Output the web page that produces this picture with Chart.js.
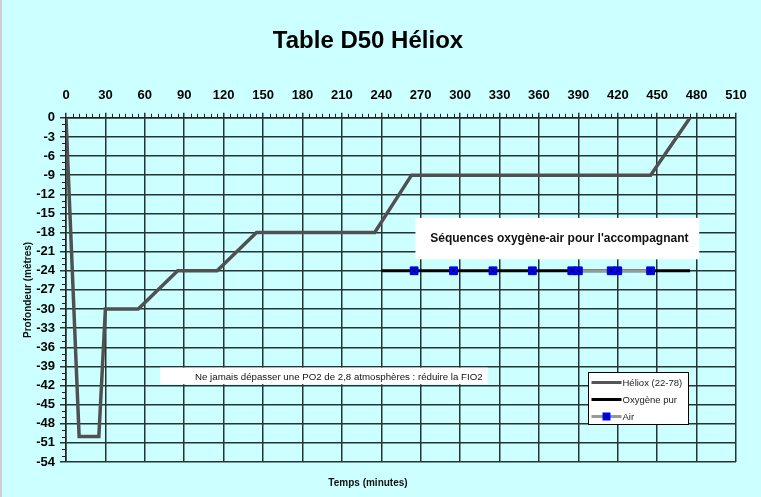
<!DOCTYPE html>
<html>
<head>
<meta charset="utf-8">
<script src="https://cdn.jsdelivr.net/npm/chart.js@4/dist/chart.umd.min.js"></script>
<style>
body { margin: 0; background: #ccffff; }
#wrap { width: 761px; height: 497px; }
</style>
</head>
<body>
<div id="wrap"><canvas id="mycanvas" width="761" height="497"></canvas></div>
<script>
// profil de plongee (minutes / metres)
var heliumTime  = [0, 10, 25, 30, 55, 85, 115, 145, 235, 263, 445, 475];
var heliumDepth = [0, -50, -50, -30, -30, -24, -24, -18, -18, -9, -9, 0];

// sequences pour l'accompagnant, tracees a -24 m
var oxygenTime  = [240, 475];
var oxygenDepth = [-24, -24];
var airTime  = [265, null, 295, null, 325, null, 355, null, 385, 390, 415, null, 420, 445];
var airDepth = [-24, null, -24, null, -24, null, -24, null, -24, -24, -24, null, -24, -24];

var xTicksMin = 0, xTicksMax = 510, xStep = 30;
var yTicksMin = -54, yTicksMax = 0, yStep = 3;

var FONT = "'Liberation Sans', Arial, sans-serif";

function pts(xs, ys) {
  var out = [];
  for (var i = 0; i < xs.length; i++) {
    out.push({x: xs[i] === null ? NaN : xs[i], y: ys[i]});
  }
  return out;
}

var extras = {
  id: 'extras',
  beforeDraw: function(chart) {
    var c = chart.ctx;
    c.save();
    c.fillStyle = '#ccffff';
    c.fillRect(0, 0, chart.width, chart.height);
    c.fillStyle = '#d0d0d0';
    c.fillRect(0, 0, 2, chart.height);
    c.restore();
  },
  beforeDatasetsDraw: function(chart) {
    var c = chart.ctx, xs = chart.scales.x, ys = chart.scales.y;
    c.save();
    // petites graduations
    c.strokeStyle = '#222';
    c.lineWidth = 1;
    c.beginPath();
    for (var v = yTicksMin; v <= yTicksMax; v++) {
      if (v % yStep === 0) continue;
      var py = Math.round(ys.getPixelForValue(v)) + 0.5;
      c.moveTo(xs.left - 4, py); c.lineTo(xs.left, py);
    }
    for (var t = xTicksMin; t <= xTicksMax; t += 5) {
      if (t % xStep === 0) continue;
      var px = Math.round(xs.getPixelForValue(t)) + 0.5;
      c.moveTo(px, ys.top - 4); c.lineTo(px, ys.top);
    }
    c.stroke();

    // encadre "Sequences"
    var bx1 = xs.getPixelForValue(266), bx2 = xs.getPixelForValue(482);
    var by1 = ys.getPixelForValue(-15.7), by2 = ys.getPixelForValue(-22.2);
    c.fillStyle = '#ffffff';
    c.fillRect(bx1, by1, bx2 - bx1, by2 - by1);
    c.fillStyle = '#111';
    c.font = 'bold 12px ' + FONT;
    c.textAlign = 'center';
    c.textBaseline = 'middle';
    c.fillText("Séquences oxygène-air pour l'accompagnant", (bx1 + bx2) / 2 + 2, (by1 + by2) / 2);

    // encadre PO2
    var nx1 = xs.getPixelForValue(71.5), nx2 = xs.getPixelForValue(321);
    var ny1 = ys.getPixelForValue(-39.2), ny2 = ys.getPixelForValue(-41.8);
    c.fillStyle = '#ffffff';
    c.fillRect(nx1, ny1, nx2 - nx1, ny2 - ny1);
    c.fillStyle = '#111';
    c.font = '9.7px ' + FONT;
    c.fillText('Ne jamais dépasser une PO2 de 2,8 atmosphères : réduire la FIO2', (nx1 + nx2) / 2 + 15, (ny1 + ny2) / 2 + 1);

    // legende
    var lx1 = Math.round(xs.getPixelForValue(397.5)) + 0.5, lx2 = Math.round(xs.getPixelForValue(473.7)) + 0.5;
    var ly1 = Math.round(ys.getPixelForValue(-39.9)) + 0.5, ly2 = Math.round(ys.getPixelForValue(-48.1)) + 0.5;
    c.fillStyle = '#ffffff';
    c.fillRect(lx1, ly1, lx2 - lx1, ly2 - ly1);
    c.strokeStyle = '#000';
    c.lineWidth = 1;
    c.strokeRect(lx1, ly1, lx2 - lx1, ly2 - ly1);
    var rows = [
      {label: 'Héliox (22-78)', color: '#555555', w: 3, marker: false},
      {label: 'Oxygène pur', color: '#000000', w: 3, marker: false},
      {label: 'Air', color: '#999999', w: 3, marker: true}
    ];
    c.textAlign = 'left';
    c.font = '9.5px ' + FONT;
    for (var i = 0; i < rows.length; i++) {
      var ry = ly1 + 10 + i * 17;
      c.strokeStyle = rows[i].color;
      c.lineWidth = rows[i].w;
      c.beginPath();
      c.moveTo(lx1 + 3, ry); c.lineTo(lx1 + 33, ry);
      c.stroke();
      if (rows[i].marker) {
        c.fillStyle = '#0000ff';
        c.fillRect(lx1 + 14, ry - 4, 8, 8);
        c.strokeStyle = '#000';
        c.lineWidth = 0.8;
        c.beginPath();
        c.moveTo(lx1 + 16, ry - 2); c.lineTo(lx1 + 20, ry + 2);
        c.moveTo(lx1 + 20, ry - 2); c.lineTo(lx1 + 16, ry + 2);
        c.stroke();
      }
      c.fillStyle = '#222';
      c.fillText(rows[i].label, lx1 + 34, ry + 1);
    }
    c.restore();
  }
};

var ctx = document.getElementById('mycanvas');
var chart = new Chart(ctx, {
  type: 'line',
  data: {
    datasets: [
      {
        label: 'AirMarks',
        data: pts(airTime, airDepth),
        showLine: false,
        pointStyle: 'crossRot',
        pointRadius: 2.5,
        borderColor: '#000',
        borderWidth: 1,
        order: 0
      },
      {
        label: 'Air',
        data: pts(airTime, airDepth),
        borderColor: '#999999',
        borderWidth: 3,
        pointStyle: 'rect',
        pointRadius: 5.5,
        pointBackgroundColor: '#0000ff',
        pointBorderColor: '#0000cc',
        pointBorderWidth: 1,
        spanGaps: false,
        order: 1
      },
      {
        label: 'Oxygène pur',
        data: pts(oxygenTime, oxygenDepth),
        borderColor: '#000000',
        borderWidth: 3,
        pointRadius: 0,
        order: 2
      },
      {
        label: 'Héliox (22-78)',
        data: pts(heliumTime, heliumDepth),
        borderColor: '#505050',
        borderWidth: 3.5,
        pointRadius: 0,
        order: 3
      }
    ]
  },
  options: {
    responsive: false,
    animation: false,
    layout: { padding: { left: 0, right: 25, top: 0, bottom: 0 } },
    plugins: {
      legend: { display: false },
      tooltip: { enabled: false },
      title: {
        display: true,
        text: 'Table D50 Héliox',
        color: '#000',
        font: { family: FONT, size: 24, weight: 'bold', lineHeight: 1.2 },
        padding: { top: 27, bottom: 32 }
      },
      subtitle: {
        display: true,
        position: 'bottom',
        text: 'Temps (minutes)',
        color: '#111',
        font: { family: FONT, size: 10, weight: 'bold', lineHeight: 1.2 },
        padding: { top: 15, bottom: 8 }
      }
    },
    scales: {
      x: {
        type: 'linear',
        position: 'top',
        min: xTicksMin,
        max: xTicksMax,
        afterFit: function(s) { s.height = 30; },
        ticks: {
          stepSize: xStep,
          autoSkip: false,
          maxRotation: 0,
          padding: 10,
          color: '#000',
          font: { family: FONT, size: 13, weight: 'bold' }
        },
        grid: { color: '#263434', lineWidth: 1.5, tickLength: 5 },
        border: { color: '#222', width: 1.5 }
      },
      y: {
        type: 'linear',
        min: yTicksMin,
        max: yTicksMax,
        afterFit: function(s) { s.width = 66; },
        ticks: {
          stepSize: yStep,
          autoSkip: false,
          padding: 5,
          color: '#000',
          font: { family: FONT, size: 13, weight: 'bold' }
        },
        grid: { color: '#263434', lineWidth: 1.5, tickLength: 6 },
        border: { color: '#222', width: 1.5 },
        title: {
          display: true,
          text: 'Profondeur (mètres)',
          color: '#111',
          font: { family: FONT, size: 10, weight: 'bold', lineHeight: 1.2 },
          padding: { top: 22, bottom: 0 }
        }
      }
    }
  },
  plugins: [extras]
});
</script>
</body>
</html>
